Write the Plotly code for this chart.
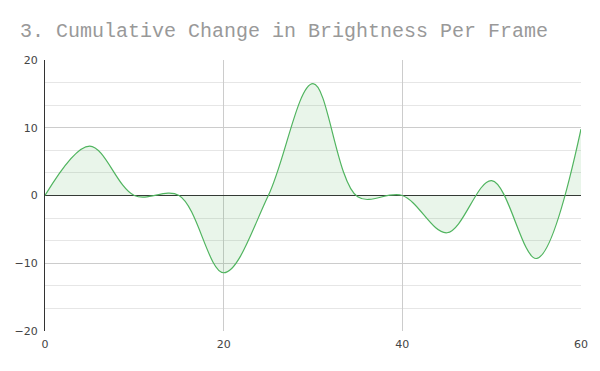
import plotly.graph_objects as go

frames = [0, 5, 10, 15, 20, 25, 30, 35, 40, 45, 50, 55, 60]
brightness = [0, 7.3, 0, 0, -11.4, 0, 16.5, -0.2, 0, -5.5, 2.2, -9.3, 9.8]

fig = go.Figure()
fig.add_trace(go.Scatter(
    x=frames,
    y=brightness,
    mode='lines',
    line=dict(color='rgb(80,180,95)', width=1.2, shape='spline', smoothing=1),
    fill='tozeroy',
    fillcolor='rgba(76,175,80,0.12)',
    hoverinfo='x+y',
))

# page body adds an 8px offset, so margins are shifted to compensate
fig.update_layout(
    width=600, height=371,
    margin=dict(l=37, r=27, t=52, b=48),
    paper_bgcolor='white',
    plot_bgcolor='white',
    showlegend=False,
    title=dict(
        text='3. Cumulative Change in Brightness Per Frame',
        font=dict(family='Liberation Mono, Courier New, monospace', size=20, color='#999999'),
        x=0, xref='paper', xanchor='left', y=0.94, yanchor='middle',
        pad=dict(l=-25),
    ),
    font=dict(family='DejaVu Sans, Verdana, sans-serif', size=11, color='#444444'),
)

fig.update_xaxes(
    range=[0, 60], tickvals=[0, 20, 40, 60], automargin=False,
    showgrid=True, gridcolor='#cccccc', gridwidth=1,
    zeroline=False, showline=False, ticks='', ticklabelstandoff=5,
)
fig.update_yaxes(
    range=[-20, 20], tickvals=[-20, -10, 0, 10, 20], automargin=False,
    showgrid=True, gridcolor='#cccccc', gridwidth=1,
    minor=dict(dtick=10/3, showgrid=True, gridcolor='#e6e6e6', gridwidth=1),
    zeroline=True, zerolinecolor='#333333', zerolinewidth=1,
    showline=True, linecolor='#333333', linewidth=1, ticks='', ticklabelstandoff=4,
)

fig.write_html("out.html")
